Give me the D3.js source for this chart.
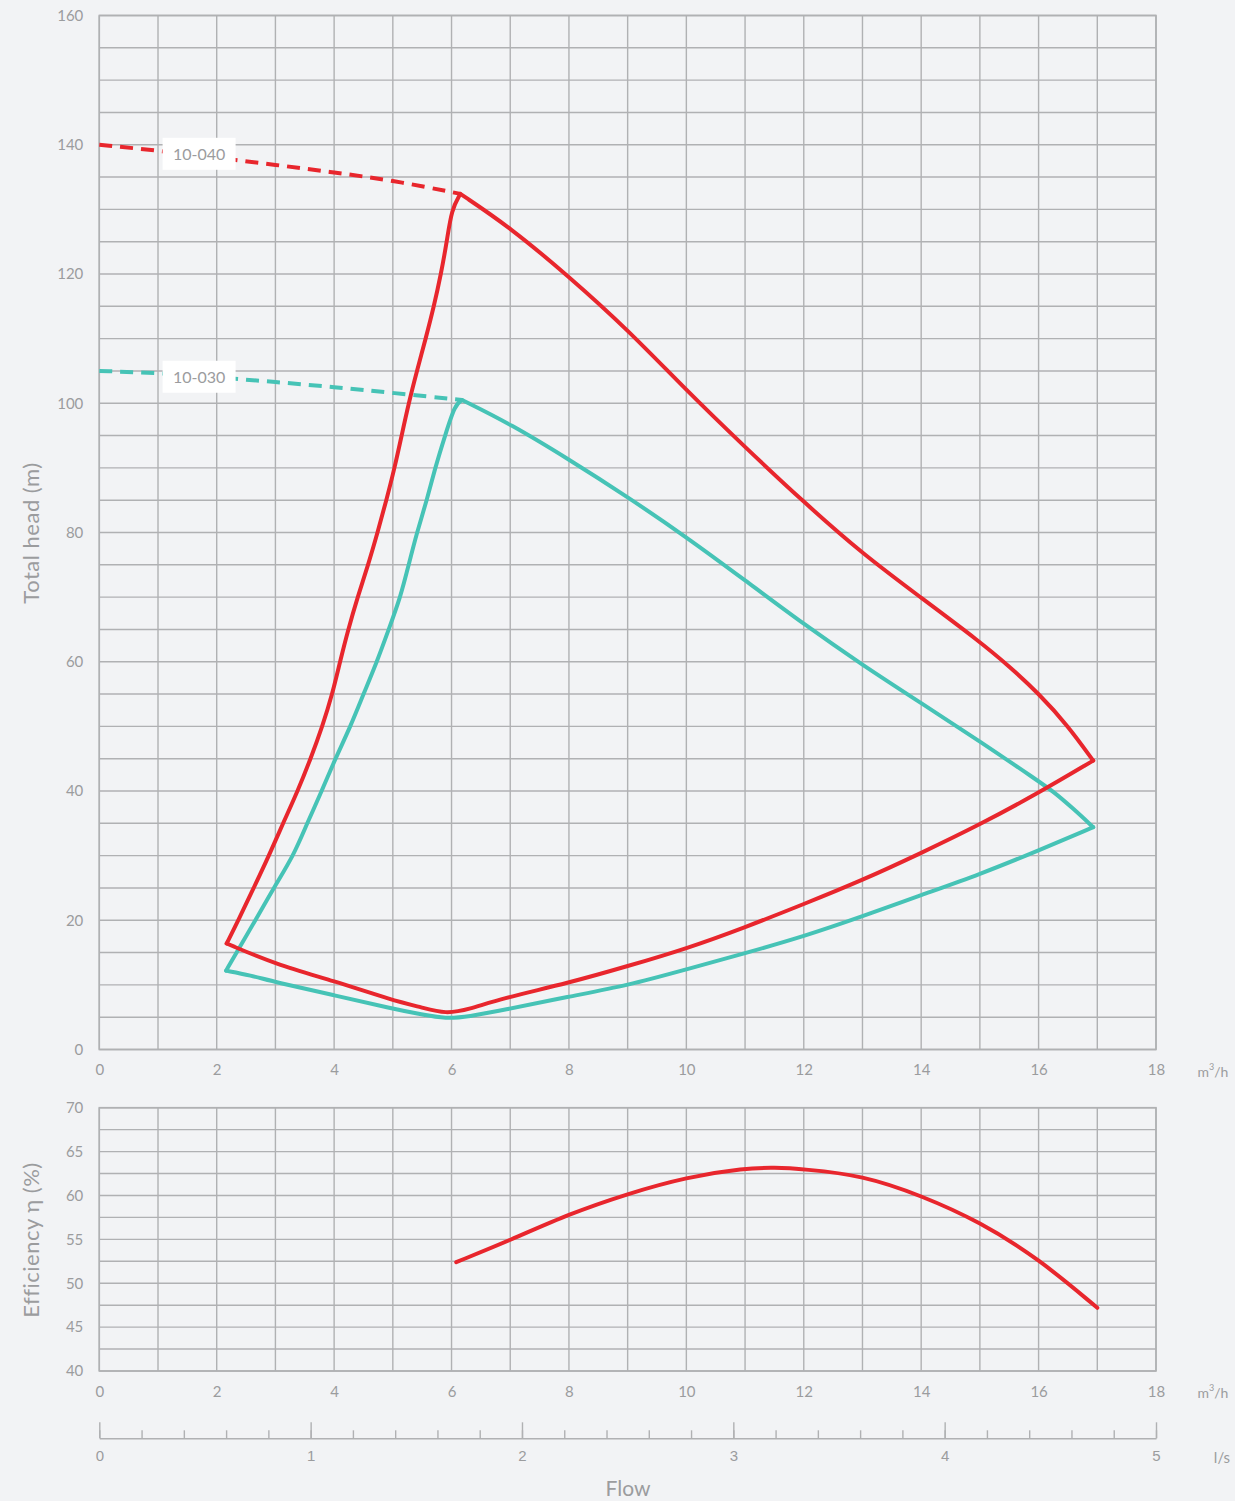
<!DOCTYPE html>
<html>
<head>
<meta charset="utf-8">
<script src="https://cdn.jsdelivr.net/npm/d3@7"></script>
<style>
  html, body { margin: 0; padding: 0; background: #f2f3f5; }
  svg { display: block; font-family: "Lato", "Open Sans", sans-serif; }
</style>
</head>
<body>
<svg id="chart" width="1235" height="1501"></svg>
<script>
// ---------- DATA ----------
const flowTicks = [0, 2, 4, 6, 8, 10, 12, 14, 16, 18];
const flowGrid = d3.range(0, 19, 1);
const headTicks = [0, 20, 40, 60, 80, 100, 120, 140, 160];
const headGrid = d3.range(0, 161, 5);
const effTicks = [40, 45, 50, 55, 60, 65, 70];
const effGrid = d3.range(40, 70.1, 2.5);
const lsTicks = [0, 1, 2, 3, 4, 5];
const lsMinor = d3.range(0, 5.01, 0.2);

// 10-040 (red) [flow m3/h, head m]
const red_dash = [[0,140],[1,139.1],[2,138],[3,136.9],[4,135.7],[5,134.5],[6.15,132.4]];
const red_rise = [[2.17,16.4],[2.37,20],[2.63,25],[2.89,30],[3.13,35],[3.38,40],[3.6,45],[3.8,50],[3.97,55],[4.1,60],[4.24,65],[4.4,70],[4.58,75],[4.74,80],[4.89,85],[5.03,90],[5.15,95],[5.27,100],[5.41,105],[5.56,110],[5.7,115],[5.82,120],[5.92,125],[6.0,130],[6.15,132.4]];
const red_fall = [[6.15,132.4],[7,127.2],[8,119.6],[9,111.4],[10,102],[11,93.2],[12,84.7],[13,76.7],[14,69.9],[15,63.1],[15.5,59.3],[16,55.1],[16.5,50.1],[16.93,44.7]];
const red_low = [[2.17,16.4],[3,13.2],[4,10.6],[5,7.6],[5.5,6.5],[5.9,5.5],[6.3,6.2],[6.83,7.85],[8,10.3],[9,12.9],[10,15.6],[11,18.9],[12,22.5],[13,26.2],[14,30.4],[15,34.8],[16,39.7],[16.93,44.7]];

// 10-030 (teal)
const teal_dash = [[0,105],[1,104.7],[2,104],[3,103.3],[4,102.5],[5,101.6],[6.18,100.5]];
const teal_rise = [[2.16,12.2],[2.4,16],[2.66,20],[2.97,25],[3.31,30],[3.54,35],[3.79,40],[4.02,45],[4.28,50],[4.5,55],[4.73,60],[4.93,65],[5.13,70],[5.27,75],[5.41,80],[5.58,85],[5.72,90],[5.89,95],[6.06,99.8],[6.18,100.5]];
const teal_fall = [[6.18,100.5],[7,96.8],[8,91.3],[9,85.5],[10,79.3],[11,72.6],[12,65.8],[13,59.5],[14,53.6],[15,47.7],[16,41.5],[16.24,40],[16.6,37.2],[16.93,34.4]];
const teal_low = [[2.16,12.2],[2.57,11.5],[3,10.4],[4,8.4],[5,6.3],[5.5,5.4],[5.9,4.75],[6.3,5.1],[6.83,6.0],[8,8.2],[9,9.9],[10,12.4],[11,14.9],[12,17.5],[13,20.6],[14,23.9],[15,27.1],[16,30.8],[16.93,34.4]];

// efficiency (%)
const eff = [[6.08,52.4],[7,54.9],[8,57.9],[9,60.2],[10,62.1],[11,63.1],[11.5,63.2],[12,63.0],[13,62.3],[14,60.0],[15,57.0],[16,52.8],[17,47.2]];

const labels = [
  { text: "10-040", q: 1.7, h: 138.6 },
  { text: "10-030", q: 1.7, h: 104.1 }
];

// ---------- STYLE ----------
const C_RED = "#e8262d";
const C_TEAL = "#46c3b6";
const C_GRID = "#b0b1b3";
const C_TEXT = "#9b9c9e";

const svg = d3.select("#chart");

const x = d3.scaleLinear().domain([0, 18]).range([99.3, 1156]);
const y1 = d3.scaleLinear().domain([0, 160]).range([1049.5, 15.5]);
const y2 = d3.scaleLinear().domain([40, 70]).range([1371, 1107.7]);
const xl = d3.scaleLinear().domain([0, 5]).range([99.3, 1156]);

function grid(g, ys, yvals) {
  g.selectAll("line.v").data(flowGrid).join("line")
    .attr("x1", d => x(d)).attr("x2", d => x(d))
    .attr("y1", ys.range()[1]).attr("y2", ys.range()[0])
    .attr("stroke", C_GRID).attr("stroke-width", 1.4);
  g.selectAll("line.h").data(yvals).join("line")
    .attr("x1", x(0)).attr("x2", x(18))
    .attr("y1", d => ys(d)).attr("y2", d => ys(d))
    .attr("stroke", C_GRID).attr("stroke-width", 1.4);
  g.append("rect")
    .attr("x", x(0)).attr("y", ys.range()[1])
    .attr("width", x(18) - x(0)).attr("height", ys.range()[0] - ys.range()[1])
    .attr("fill", "none").attr("stroke", C_GRID).attr("stroke-width", 1.6);
}

grid(svg.append("g"), y1, headGrid);
grid(svg.append("g"), y2, effGrid);

function styleAxis(g, size) {
  g.select(".domain").remove();
  g.selectAll(".tick line").remove();
  g.selectAll("text").attr("fill", C_TEXT).style("font-size", size + "px").style("font-family", "Lato, 'Open Sans', sans-serif");
}

svg.append("g").attr("transform", `translate(${x(0)},0)`)
  .call(d3.axisLeft(y1).tickValues(headTicks).tickSize(0).tickPadding(16))
  .call(g => styleAxis(g, 15));
svg.append("g").attr("transform", `translate(0,${y1(0)})`)
  .call(d3.axisBottom(x).tickValues(flowTicks).tickSize(0).tickPadding(15))
  .call(g => styleAxis(g, 15));

svg.append("g").attr("transform", `translate(${x(0)},0)`)
  .call(d3.axisLeft(y2).tickValues(effTicks).tickSize(0).tickPadding(16))
  .call(g => styleAxis(g, 15));
svg.append("g").attr("transform", `translate(0,${y2(40)})`)
  .call(d3.axisBottom(x).tickValues(flowTicks).tickSize(0).tickPadding(15))
  .call(g => styleAxis(g, 15));

function unit(yPos) {
  svg.append("text").attr("x", 1213).attr("y", yPos).attr("text-anchor", "middle")
    .attr("dominant-baseline", "central").attr("fill", C_TEXT).style("font-size", "14px")
    .html('m<tspan dy="-5" font-size="9">3</tspan><tspan dy="5">/h</tspan>');
}
unit(1071);
unit(1392);

// l/s axis
const LS_Y = 1438.3;
svg.append("g").attr("transform", `translate(0,${LS_Y})`)
  .call(d3.axisBottom(xl).tickValues(lsMinor).tickSize(-8).tickSizeOuter(0).tickFormat(""))
  .call(g => { g.selectAll("line").attr("stroke", C_GRID).attr("stroke-width", 1.4);
               g.select(".domain").attr("stroke", C_GRID).attr("stroke-width", 1.6); });
svg.append("g").attr("transform", `translate(0,${LS_Y})`)
  .call(d3.axisBottom(xl).tickValues(lsTicks).tickSize(-16).tickSizeOuter(0).tickPadding(12).tickFormat(d3.format("d")))
  .call(g => { g.select(".domain").remove();
               g.selectAll("line").attr("stroke", C_GRID).attr("stroke-width", 1.4);
               g.selectAll("text").attr("fill", C_TEXT).style("font-size", "15px"); });
svg.append("text").attr("x", 1222).attr("y", 1457).attr("text-anchor", "middle")
  .attr("dominant-baseline", "central").attr("fill", C_TEXT).style("font-size", "15px").text("l/s");

// axis titles
svg.append("text").attr("transform", `translate(30,533) rotate(-90)`)
  .attr("text-anchor", "middle").attr("dominant-baseline", "central")
  .attr("fill", C_TEXT).style("font-size", "22px").style("letter-spacing", "0.5px").text("Total head (m)");
svg.append("text").attr("transform", `translate(30,1240) rotate(-90)`)
  .attr("text-anchor", "middle").attr("dominant-baseline", "central")
  .attr("fill", C_TEXT).style("font-size", "22px").style("letter-spacing", "0.5px").text("Efficiency η (%)");
svg.append("text").attr("x", 628).attr("y", 1487)
  .attr("text-anchor", "middle").attr("dominant-baseline", "central")
  .attr("fill", C_TEXT).style("font-size", "21px").text("Flow");

// curves
const lineH = d3.line().x(d => x(d[0])).y(d => y1(d[1])).curve(d3.curveBasis);
const lineE = d3.line().x(d => x(d[0])).y(d => y2(d[1])).curve(d3.curveBasis);

function drawSolid(data, color) {
  svg.append("path").attr("d", lineH(data)).attr("fill", "none")
    .attr("stroke", color).attr("stroke-width", 4)
    .attr("stroke-linecap", "round").attr("stroke-linejoin", "round");
}
function drawDash(data, color) {
  svg.append("path").attr("d", lineH(data)).attr("fill", "none")
    .attr("stroke", color).attr("stroke-width", 4)
    .attr("stroke-dasharray", "13,8");
}

drawDash(teal_dash, C_TEAL);
drawDash(red_dash, C_RED);
[teal_low, teal_rise, teal_fall].forEach(d => drawSolid(d, C_TEAL));
[red_low, red_rise, red_fall].forEach(d => drawSolid(d, C_RED));

svg.append("path").attr("d", lineE(eff)).attr("fill", "none")
  .attr("stroke", C_RED).attr("stroke-width", 4).attr("stroke-linecap", "round");

// label boxes
const lg = svg.append("g").selectAll("g").data(labels).join("g")
  .attr("transform", d => `translate(${x(d.q)},${y1(d.h)})`);
lg.append("rect").attr("x", -36.5).attr("y", -16).attr("width", 73).attr("height", 32).attr("fill", "#ffffff");
lg.append("text").attr("text-anchor", "middle").attr("dominant-baseline", "central")
  .attr("fill", C_TEXT).style("font-size", "16px").text(d => d.text);
</script>
</body>
</html>
